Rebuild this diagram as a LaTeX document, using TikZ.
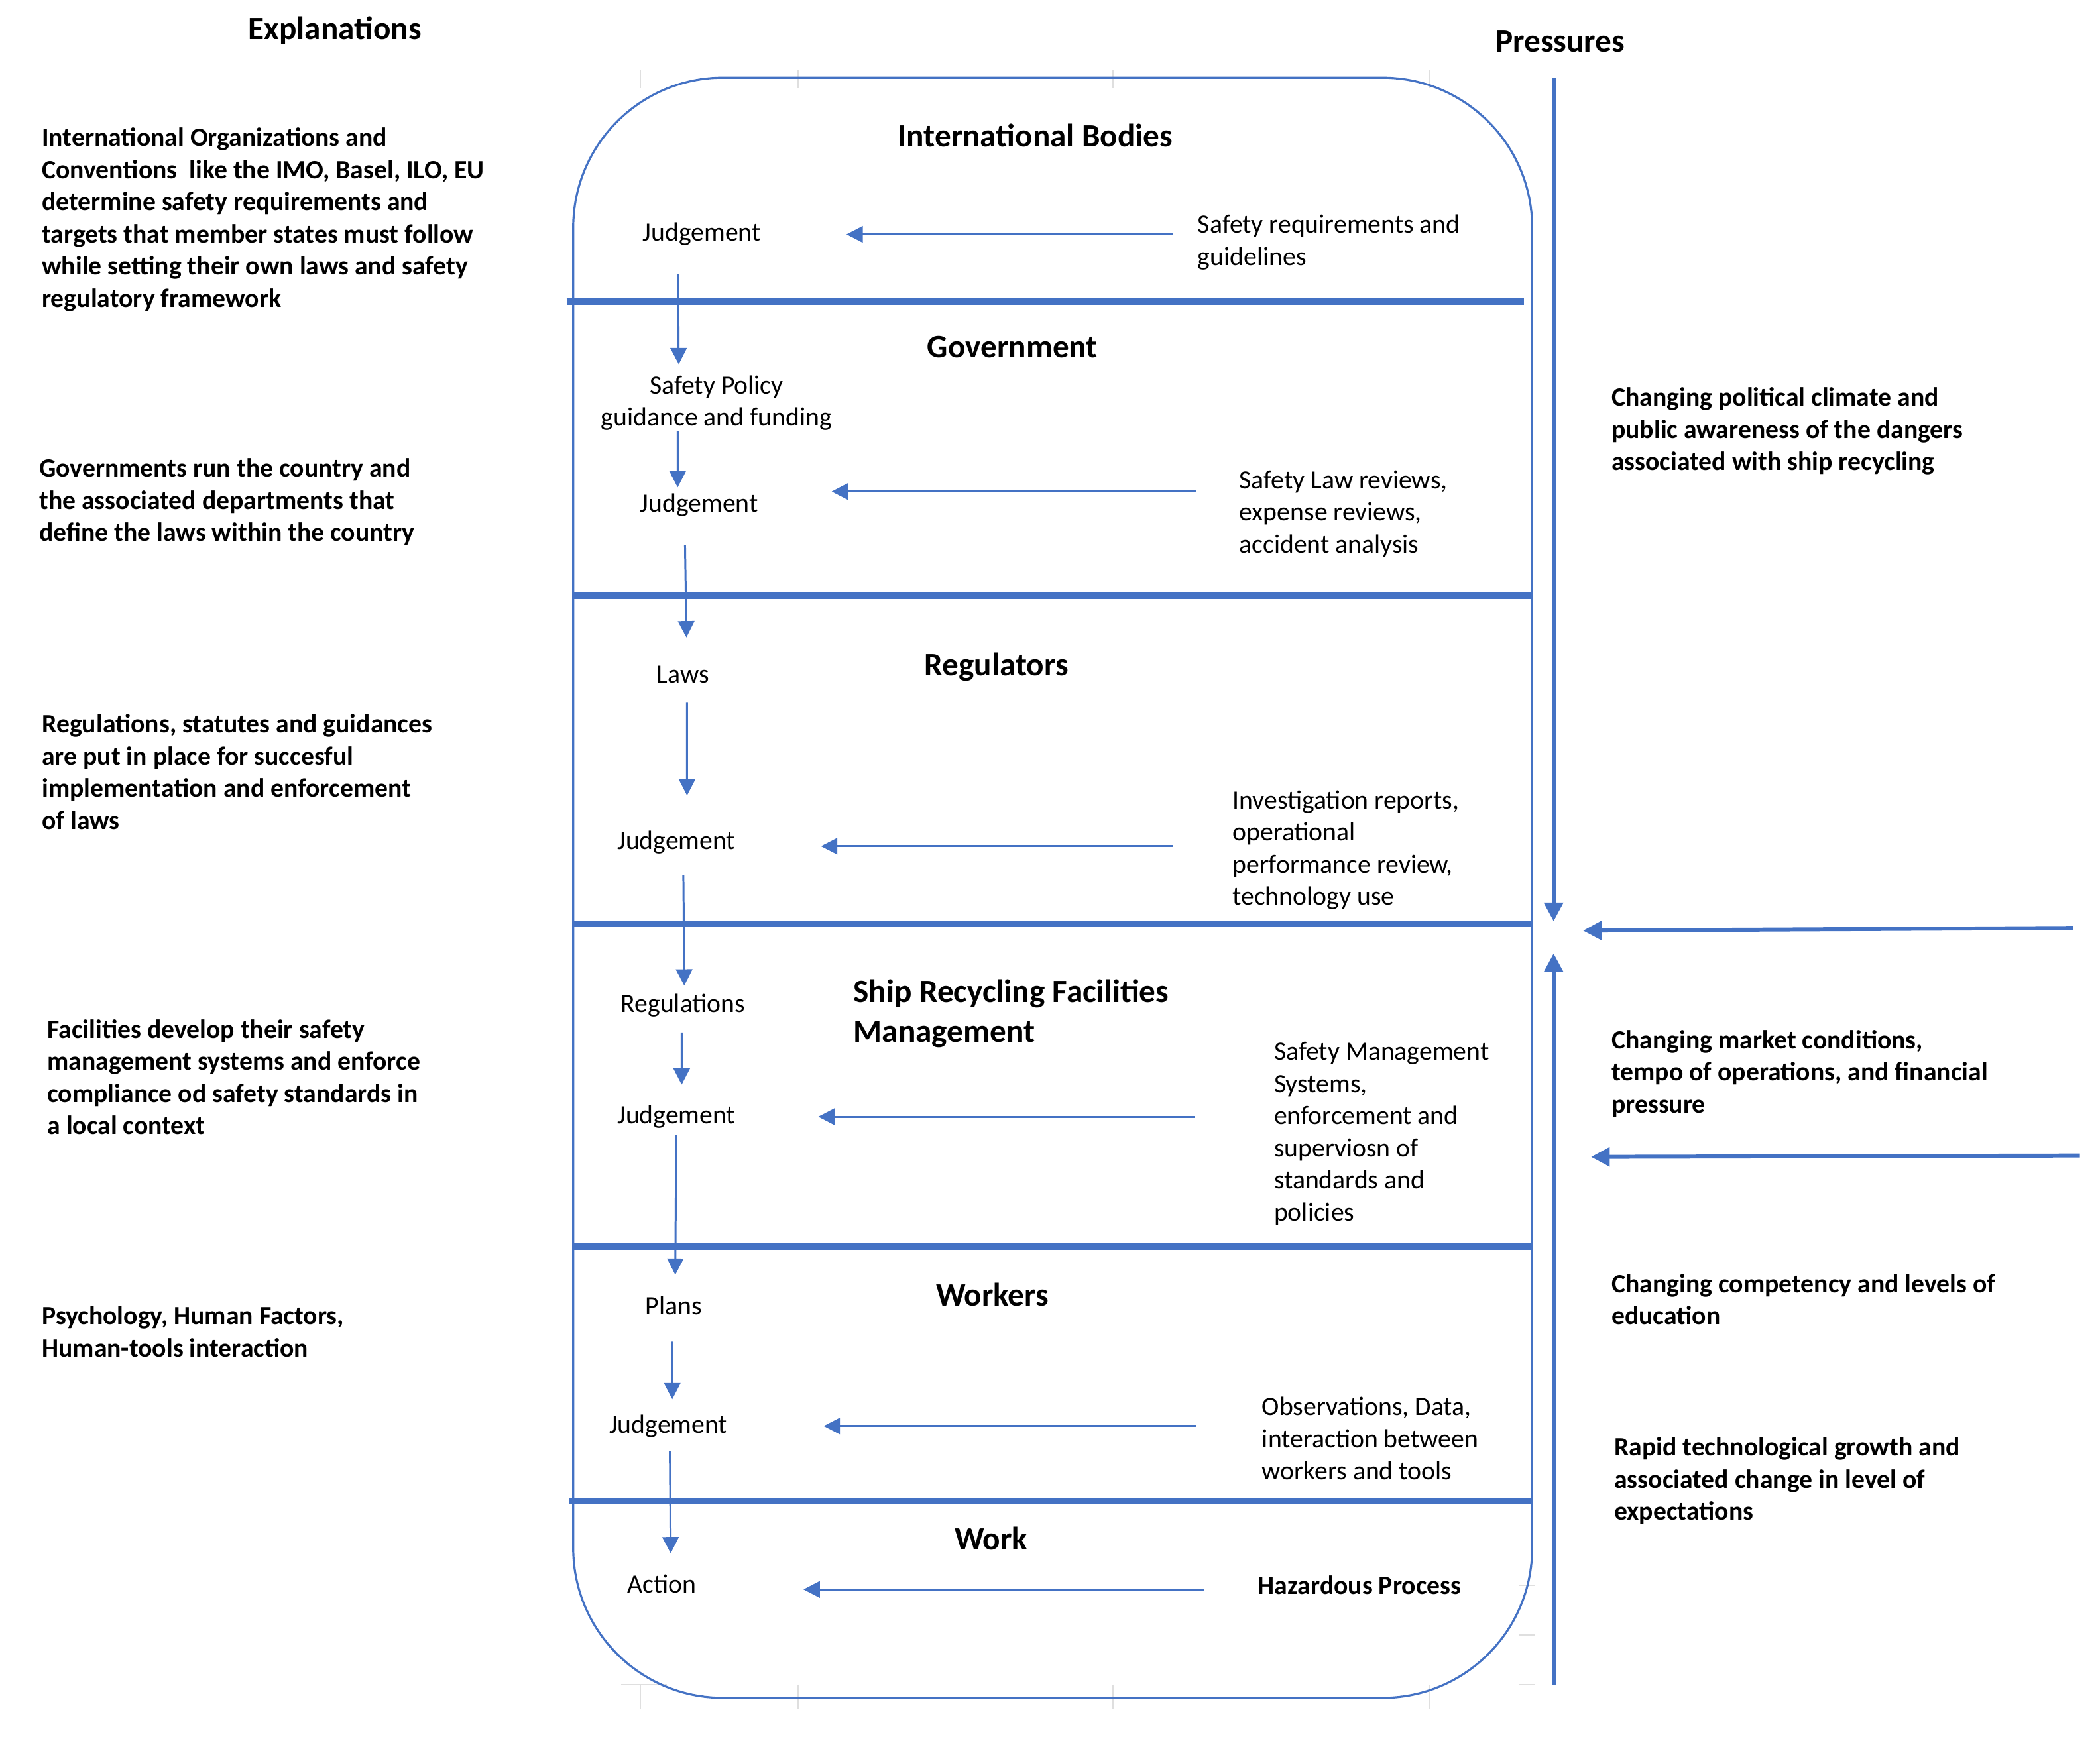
\documentclass[tikz,border=0pt]{standalone}
\usepackage{fontspec}
\setmainfont{Carlito}
\usepackage{xcolor}
\usepackage{tikz}
\usetikzlibrary{arrows.meta}
\definecolor{lineblue}{RGB}{68,114,196}

\begin{document}
\begin{tikzpicture}[x=0.020204cm,y=-0.020204cm,
        flow/.style={draw=lineblue,line width=0.85pt,-{Triangle[length=7pt,width=7pt]}},
        press/.style={draw=lineblue,line width=1.7pt,-{Triangle[length=8pt,width=8pt]}},
        sep/.style={draw=lineblue,line width=2.9pt},
        lvl/.style={font=\fontsize{11.3}{13.8}\selectfont,inner sep=0pt},
        fb/.style={font=\fontsize{11.3}{13.8}\selectfont,inner sep=0pt,anchor=north west,align=left},
        note/.style={font=\bfseries\fontsize{11.3}{13.8}\selectfont,inner sep=0pt,anchor=north west,align=left},
        head/.style={font=\bfseries\fontsize{14}{17}\selectfont,inner sep=0pt}]
        \useasboundingbox (0,0) rectangle (1568,1300);

        %%% GRID REMAINS %%%
        \foreach \gx in {478,596,713,831,949,1067}{
            \draw[gray!25,line width=0.5pt] (\gx,52)--(\gx,66);
            \draw[gray!25,line width=0.5pt] (\gx,1258)--(\gx,1276);
        }
        \draw[gray!25,line width=0.5pt] (464,1258)--(498,1258);
        \foreach \gy in {1184,1221,1258}{
            \draw[gray!25,line width=0.5pt] (1134,\gy)--(1146,\gy);
        }

        %%% BOX %%%
        \draw[lineblue,line width=0.9pt,rounded corners=2.26cm] (428,58) rectangle (1144,1268);
        \draw[sep] (423,225)--(1138,225);
        \draw[sep] (428,445)--(1144,445);
        \draw[sep] (428,690)--(1144,690);
        \draw[sep] (428,931)--(1144,931);
        \draw[sep] (425,1121)--(1144,1121);

        %%% HEADINGS %%%
        \node[head] (explhead) at (250,23) {Explanations};
        \node[head] (presshead) at (1165,31) {Pressures};
        \node[head] (intbod) at (773,101) {International Bodies};
        \node[head] (govt) at (756,259) {Government};
        \node[head] (regul) at (744,498) {Regulators};
        \node[head,anchor=north west,align=left] (srfm) at (637,731) {Ship Recycling Facilities\\Management};
        \node[head] (workers) at (741,967) {Workers};
        \node[head] (work) at (740,1149) {Work};

        %%% EXPLANATIONS %%%
        \node[note] (expl1) at (31,95) {International Organizations and\\Conventions~ like the IMO, Basel, ILO, EU\\determine safety requirements and\\targets that member states must follow\\while setting their own laws and safety\\regulatory framework};
        \node[note] (expl2) at (29,342) {Governments run the country and\\the associated departments that\\define the laws within the country};
        \node[note] (expl3) at (31,533) {Regulations, statutes and guidances\\are put in place for succesful\\implementation and enforcement\\of laws};
        \node[note] (expl4) at (35,761) {Facilities develop their safety\\management systems and enforce\\compliance od safety standards in\\a local context};
        \node[note] (expl5) at (31,975) {Psychology, Human Factors,\\Human-tools interaction};

        %%% PRESSURES %%%
        \node[note] (pres1) at (1203,289) {Changing political climate and\\public awareness of the dangers\\associated with ship recycling};
        \node[note] (pres2) at (1203,769) {Changing market conditions,\\tempo of operations, and financial\\pressure};
        \node[note] (pres3) at (1203,951) {Changing competency and levels of\\education};
        \node[note] (pres4) at (1205,1073) {Rapid technological growth and\\associated change in level of\\expectations};

        %%% LEVEL NODES %%%
        \node[lvl] (judg1) at (524,175) {Judgement};
        \node[lvl,align=center] (policy) at (535,301) {Safety Policy\\guidance and funding};
        \node[lvl] (judg2) at (522,377) {Judgement};
        \node[lvl] (laws) at (510,504) {Laws};
        \node[lvl] (judg3) at (505,629) {Judgement};
        \node[lvl] (regs) at (510,751) {Regulations};
        \node[lvl] (judg4) at (505,834) {Judgement};
        \node[lvl] (plans) at (503,975) {Plans};
        \node[lvl] (judg5) at (499,1065) {Judgement};
        \node[lvl] (action) at (494,1183) {Action};

        %%% FEEDBACK %%%
        \node[fb] (fb1) at (894,160) {Safety requirements and\\guidelines};
        \node[fb] (fb2) at (925,351) {Safety Law reviews,\\expense reviews,\\accident analysis};
        \node[fb] (fb3) at (920,590) {Investigation reports,\\operational\\performance review,\\technology use};
        \node[fb] (fb4) at (951,778) {Safety Management\\Systems,\\enforcement and\\superviosn of\\standards and\\policies};
        \node[fb] (fb5) at (942,1043) {Observations, Data,\\interaction between\\workers and tools};
        \node[lvl,font=\bfseries\fontsize{11.3}{13.8}\selectfont,anchor=west] (fb6) at (939,1184) {Hazardous Process};

        %%% DOWNWARD FLOW %%%
        \draw[flow,shorten <=17.2pt,shorten >=16.7pt] ([xshift=-10.3pt]judg1.center)--([xshift=-16.1pt]policy.center);
        \draw[flow,shorten <=12pt,shorten >=7.5pt] ([xshift=-16.7pt]policy.center)--([xshift=-9.2pt]judg2.center);
        \draw[flow,shorten <=17.2pt,shorten >=16.1pt] ([xshift=-6.3pt]judg2.center)--([xshift=1.7pt]laws.center);
        \draw[flow,shorten <=12pt,shorten >=20.1pt] ([xshift=1.7pt]laws.center)--([xshift=4.6pt]judg3.center);
        \draw[flow,shorten <=14.3pt,shorten >=8.6pt] ([xshift=2.9pt]judg3.center)--([xshift=0.6pt]regs.center);
        \draw[flow,shorten <=11.5pt,shorten >=13.8pt] ([xshift=-0.6pt]regs.center)--([xshift=2.3pt]judg4.center);
        \draw[flow,shorten <=8pt,shorten >=13.2pt] (judg4.center)--([xshift=0.6pt]plans.center);
        \draw[flow,shorten <=15.5pt,shorten >=11.5pt] ([xshift=-0.6pt]plans.center)--([xshift=1.7pt]judg5.center);
        \draw[flow,shorten <=10.9pt,shorten >=13.2pt] ([xshift=0.6pt]judg5.center)--([xshift=4pt]action.center);

        %%% FEEDBACK ARROWS %%%
        \draw[flow,shorten <=10.3pt,shorten >=62.1pt] (fb1.west |- judg1.center)--(judg1.center);
        \draw[flow,shorten <=18.4pt,shorten >=56.9pt,transform canvas={yshift=5.7pt}] (fb2.west |- judg2.center)--(judg2.center);
        \draw[flow,shorten <=25.3pt,shorten >=62.1pt,transform canvas={yshift=-1.7pt}] (fb3.west |- judg3.center)--(judg3.center);
        \draw[flow,shorten <=33.9pt,shorten >=60.9pt] (fb4.west |- judg4.center)--(judg4.center);
        \draw[flow,shorten <=28.2pt,shorten >=66.7pt] (fb5.west |- judg5.center)--(judg5.center);
        \draw[flow,shorten <=23pt,shorten >=60.9pt,transform canvas={yshift=-2.3pt}] (fb6.west |- action.center)--(action.center);

        %%% PRESSURE ARROWS %%%
        \coordinate (ptop) at (1160,58);
        \coordinate (pdown) at (1160,688);
        \coordinate (pup) at (1160,712);
        \coordinate (pbot) at (1160,1258);
        \coordinate (mkt1) at (1548,693);
        \coordinate (mkt1end) at (1182,695);
        \coordinate (mkt2) at (1553,863);
        \coordinate (mkt2end) at (1188,864);
        \draw[press] (ptop)--(pdown);
        \draw[press] (pbot)--(pup);
        \draw[press] (mkt1)--(mkt1end);
        \draw[press] (mkt2)--(mkt2end);
\end{tikzpicture}
\end{document}
